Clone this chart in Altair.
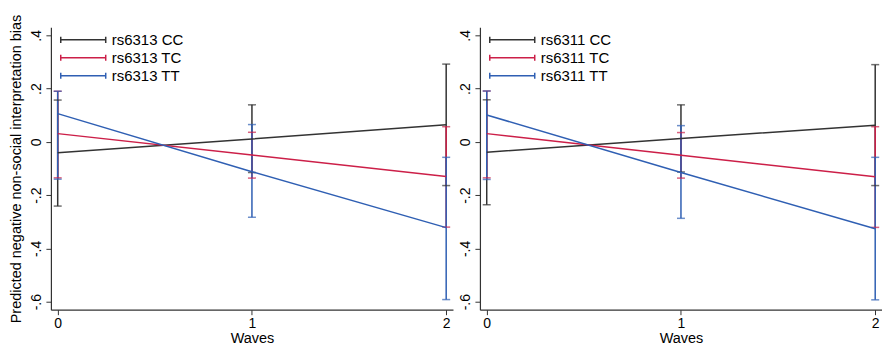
import altair as alt
import pandas as pd

waves = [0, 1, 2]
genotypes = ["CC", "TC", "TT"]
colors = ["#333333", "#cc1f48", "#2f5fb3"]

# rs6313 panel: estimates and 95% CI bounds, per genotype across waves 0,1,2
rs6313_cc_est = [-0.041, 0.011, 0.064]
rs6313_cc_lo = [-0.241, -0.115, -0.164]
rs6313_cc_hi = [0.157, 0.139, 0.292]
rs6313_tc_est = [0.031, -0.049, -0.130]
rs6313_tc_lo = [-0.135, -0.136, -0.320]
rs6313_tc_hi = [0.190, 0.036, 0.057]
rs6313_tt_est = [0.106, -0.112, -0.322]
rs6313_tt_lo = [-0.140, -0.283, -0.592]
rs6313_tt_hi = [0.190, 0.065, -0.058]

# rs6311 panel
rs6311_cc_est = [-0.039, 0.013, 0.062]
rs6311_cc_lo = [-0.236, -0.113, -0.164]
rs6311_cc_hi = [0.158, 0.139, 0.290]
rs6311_tc_est = [0.031, -0.050, -0.131]
rs6311_tc_lo = [-0.135, -0.136, -0.321]
rs6311_tc_hi = [0.191, 0.035, 0.057]
rs6311_tt_est = [0.101, -0.115, -0.326]
rs6311_tt_lo = [-0.141, -0.287, -0.593]
rs6311_tt_hi = [0.191, 0.061, -0.058]

y_ticks = [-0.6, -0.4, -0.2, 0, 0.2, 0.4]

FONT = "Liberation Sans"
W, H = 403, 283
# error-bar style legend glyph, drawn to the right of its anchor
LEGEND_SYMBOL = "M-1,-0.55L-1,0.55M-1,0H7M7,-0.55L7,0.55"


def build(snp, series, show_title):
    rows = []
    for g, (est, lo, hi) in zip(genotypes, series):
        for i, w in enumerate(waves):
            rows.append({"wave": float(w), "group": f"{snp} {g}", "est": est[i],
                         "lo": lo[i], "hi": hi[i]})
    df = pd.DataFrame(rows)
    labels = [f"{snp} {g}" for g in genotypes]

    color = alt.Color(
        "group:N",
        scale=alt.Scale(domain=labels, range=colors),
        legend=alt.Legend(
            title=None, orient="none", legendX=8, legendY=5,
            symbolType=LEGEND_SYMBOL, symbolSize=127, symbolStrokeWidth=1.5,
            symbolFillColor="transparent", symbolOpacity=1,
            labelFont=FONT, labelFontSize=15, labelColor="#000000",
            labelOffset=38, rowPadding=2, padding=0,
        ),
    )
    xenc = alt.X(
        "wave:Q",
        scale=alt.Scale(domain=[-0.035, 2.035], nice=False, zero=False),
        axis=alt.Axis(values=[float(w) for w in waves], tickCount=3,
                      title="Waves", labelExpr="format(datum.value, '.0f')",
                      labelOverlap=False, labelFlush=False),
    )
    yaxis = dict(values=y_ticks, labelOverlap=False, labelFlush=False,
                 labelExpr="datum.value == 0 ? '0' : (datum.value < 0 ? '-' : '') + replace(format(abs(datum.value), '.1f'), '0.', '.')")
    if show_title:
        yaxis["title"] = "Predicted negative non-social interpretation bias"
    else:
        yaxis["title"] = None
    yscale = alt.Scale(domain=[-0.63, 0.43], nice=False, zero=False)

    base = alt.Chart(df).encode(x=xenc, color=color)
    rules = base.mark_rule(strokeWidth=1.5).encode(
        y=alt.Y("lo:Q", scale=yscale, axis=alt.Axis(**yaxis)),
        y2="hi:Q",
    )
    cap_lo = base.mark_tick(orient="horizontal", size=8, thickness=1.5).encode(
        y=alt.Y("lo:Q", scale=yscale, axis=alt.Axis(**yaxis)))
    cap_hi = base.mark_tick(orient="horizontal", size=8, thickness=1.5).encode(
        y=alt.Y("hi:Q", scale=yscale, axis=alt.Axis(**yaxis)))
    lines = base.mark_line(strokeWidth=1.5).encode(
        y=alt.Y("est:Q", scale=yscale, axis=alt.Axis(**yaxis)), detail="group:N")
    return alt.layer(rules, cap_lo, cap_hi, lines).properties(width=W, height=H)


left = build("rs6313", [
    (rs6313_cc_est, rs6313_cc_lo, rs6313_cc_hi),
    (rs6313_tc_est, rs6313_tc_lo, rs6313_tc_hi),
    (rs6313_tt_est, rs6313_tt_lo, rs6313_tt_hi),
], True)
right = build("rs6311", [
    (rs6311_cc_est, rs6311_cc_lo, rs6311_cc_hi),
    (rs6311_tc_est, rs6311_tc_lo, rs6311_tc_hi),
    (rs6311_tt_est, rs6311_tt_lo, rs6311_tt_hi),
], False)

chart = alt.hconcat(left, right, spacing=5).resolve_scale(
    color="independent"
).resolve_legend(color="independent").properties(
    padding={"left": 0, "top": 5, "right": 0, "bottom": 0},
    background="white",
).configure_view(stroke=None).configure_axis(
    grid=False, domainColor="#333333", domainWidth=1.2, tickColor="#333333",
    tickSize=5, tickWidth=1, labelFont=FONT, labelFontSize=14,
    labelColor="#000000", titleFont=FONT, titleFontSize=14.5,
    titleFontWeight="normal", titleColor="#000000",
).configure_axisY(
    labelAngle=270, labelAlign="center", labelBaseline="bottom",
    labelPadding=2, titlePadding=6,
).configure_axisX(
    labelPadding=2, titlePadding=1,
)

chart.save("out.html", embed_options={"renderer": "svg", "actions": False})
